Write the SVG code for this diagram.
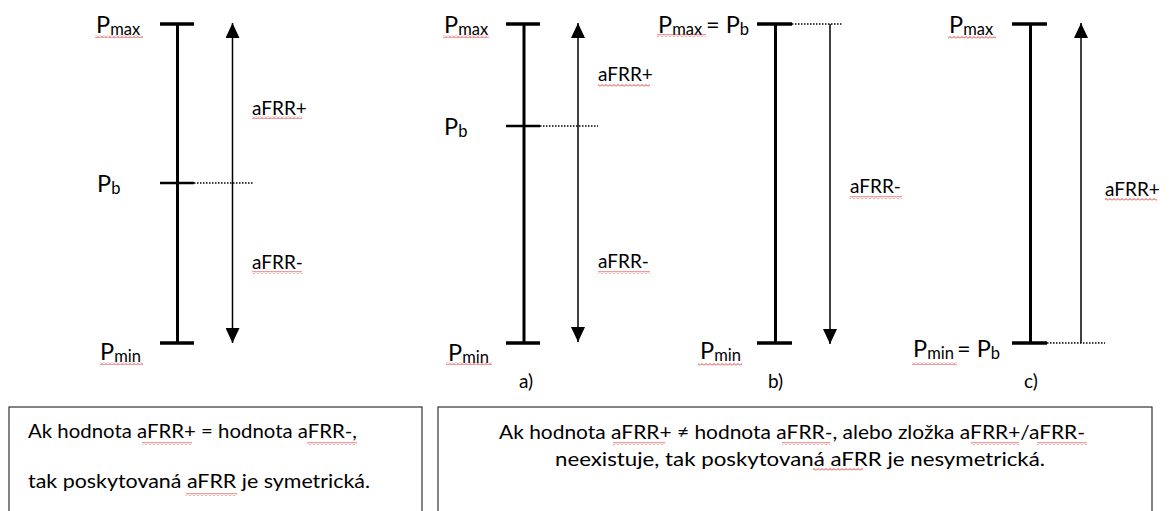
<svg xmlns="http://www.w3.org/2000/svg" width="1169" height="511" viewBox="0 0 1169 511">
<style>
text{font-family:Lato,"Liberation Sans",sans-serif;fill:#000}
.p{font-size:23.5px}
.sub{font-size:16.5px}
.lbl{font-size:19px}
.box{font-size:20px}
.axis{stroke:#000;stroke-width:3;fill:none}
.bar{stroke:#000;stroke-width:3.5;fill:none}
.tick{stroke:#000;stroke-width:2.5;fill:none}
.dot{stroke:#000;stroke-width:1.5;stroke-dasharray:1.5 1.5;fill:none}
.arr{stroke:#000;stroke-width:1.5;fill:none}
.sq{fill:url(#wave)}
.frame{fill:none;stroke:#333;stroke-width:1.2}
</style>
<defs>
<marker id="head" markerUnits="userSpaceOnUse" markerWidth="16" markerHeight="14" refX="15" refY="7" orient="auto-start-reverse">
<path d="M0,0 L15,7 L0,14 z" fill="#000"/>
</marker>
<pattern id="wave" width="4" height="3" patternUnits="userSpaceOnUse">
<path d="M0,2.5 L2,0.5 L4,2.5" stroke="#e02020" stroke-width="0.9" fill="none"/>
</pattern>
</defs>

<g id="diagram-sym">
<line class="axis" x1="177.5" y1="24" x2="177.5" y2="343"/>
<line class="bar" x1="160" y1="24" x2="194" y2="24"/>
<line class="bar" x1="160" y1="343" x2="194" y2="343"/>
<line class="tick" x1="160" y1="183" x2="194" y2="183"/>
<text class="p" x="96" y="33">P<tspan class="sub" dy="2">max</tspan></text>
<text class="p" x="97" y="192">P<tspan class="sub" dy="2">b</tspan></text>
<text class="p" x="100" y="360">P<tspan class="sub" dy="2">min</tspan></text>
<text class="lbl" x="252" y="115">aFRR+</text>
<text class="lbl" x="252" y="269">aFRR-</text>
</g>

<g id="diagram-a">
<line class="axis" x1="524" y1="24" x2="524" y2="343"/>
<line class="bar" x1="506" y1="24" x2="540" y2="24"/>
<line class="bar" x1="506" y1="343" x2="540" y2="343"/>
<line class="tick" x1="506" y1="126" x2="540" y2="126"/>
<text class="p" x="444" y="33">P<tspan class="sub" dy="2">max</tspan></text>
<text class="p" x="444" y="135">P<tspan class="sub" dy="2">b</tspan></text>
<text class="p" x="448" y="361">P<tspan class="sub" dy="2">min</tspan></text>
<text class="lbl" x="598" y="81">aFRR+</text>
<text class="lbl" x="598" y="268">aFRR-</text>
<text class="lbl" x="519" y="388">a)</text>
</g>

<g id="diagram-b">
<line class="axis" x1="775.5" y1="24" x2="775.5" y2="343"/>
<line class="bar" x1="757" y1="24" x2="792" y2="24"/>
<line class="bar" x1="757" y1="343" x2="792" y2="343"/>
<text class="p" x="658" y="33">P<tspan class="sub" dy="2">max</tspan><tspan x="706" dy="-2">= P</tspan><tspan class="sub" dy="2">b</tspan></text>
<text class="p" x="700" y="359">P<tspan class="sub" dy="2">min</tspan></text>
<text class="lbl" x="850" y="193">aFRR-</text>
<text class="lbl" x="768" y="388">b)</text>
</g>

<g id="diagram-c">
<line class="axis" x1="1030.5" y1="24" x2="1030.5" y2="343"/>
<line class="bar" x1="1012" y1="24" x2="1047" y2="24"/>
<line class="bar" x1="1012" y1="343" x2="1047" y2="343"/>
<text class="p" x="949" y="33">P<tspan class="sub" dy="2">max</tspan></text>
<text class="p" x="913" y="357">P<tspan class="sub" dy="2">min</tspan><tspan x="957" dy="-2">= P</tspan><tspan class="sub" dy="2">b</tspan></text>
<text class="lbl" x="1105" y="196">aFRR+</text>
<text class="lbl" x="1024" y="388">c)</text>
</g>

<g id="connectors">
<line class="dot" x1="194" y1="183" x2="253" y2="183"/>
<line class="arr" x1="232.5" y1="23" x2="232.5" y2="343" marker-start="url(#head)" marker-end="url(#head)"/>
<line class="dot" x1="540" y1="126" x2="598" y2="126"/>
<line class="arr" x1="578" y1="23" x2="578" y2="342" marker-start="url(#head)" marker-end="url(#head)"/>
<line class="dot" x1="792" y1="24" x2="842" y2="24"/>
<line class="arr" x1="830" y1="24" x2="830" y2="344" marker-end="url(#head)"/>
<line class="dot" x1="1047" y1="343" x2="1105" y2="343"/>
<line class="arr" x1="1081" y1="343" x2="1081" y2="23" marker-end="url(#head)"/>
</g>

<g id="note-sym">
<rect class="frame" x="9" y="407" width="413" height="115"/>
<text class="box" x="28" y="438" textLength="329" lengthAdjust="spacingAndGlyphs">Ak hodnota aFRR+ = hodnota aFRR-,</text>
<text class="box" x="28" y="488" textLength="342" lengthAdjust="spacingAndGlyphs">tak poskytovaná aFRR je symetrická.</text>
</g>

<g id="note-asym">
<rect class="frame" x="438" y="407" width="714" height="115"/>
<text class="box" x="499" y="439" textLength="586" lengthAdjust="spacingAndGlyphs">Ak hodnota aFRR+ ≠ hodnota aFRR-, alebo zložka aFRR+/aFRR-</text>
<text class="box" x="555" y="466" textLength="490" lengthAdjust="spacingAndGlyphs">neexistuje, tak poskytovaná aFRR je nesymetrická.</text>
</g>

<g id="spellcheck">
<rect class="sq" x="95" y="35" width="48" height="3"/>
<rect class="sq" x="252" y="116" width="50" height="3"/>
<rect class="sq" x="252" y="271" width="50" height="3"/>
<rect class="sq" x="100" y="362" width="43" height="3"/>
<rect class="sq" x="443" y="35" width="46" height="3"/>
<rect class="sq" x="598" y="84" width="52" height="3"/>
<rect class="sq" x="598" y="271" width="52" height="3"/>
<rect class="sq" x="446" y="362" width="46" height="3"/>
<rect class="sq" x="657" y="34" width="49" height="3"/>
<rect class="sq" x="850" y="196" width="52" height="3"/>
<rect class="sq" x="698" y="363" width="44" height="3"/>
<rect class="sq" x="948" y="36" width="48" height="3"/>
<rect class="sq" x="1105" y="198" width="52" height="3"/>
<rect class="sq" x="912" y="362" width="45" height="3"/>
<rect class="sq" x="142" y="442" width="50" height="3"/>
<rect class="sq" x="307" y="442" width="50" height="3"/>
<rect class="sq" x="186" y="493" width="51" height="3"/>
<rect class="sq" x="613" y="442" width="52" height="3"/>
<rect class="sq" x="782" y="442" width="48" height="3"/>
<rect class="sq" x="971" y="442" width="48" height="3"/>
<rect class="sq" x="1037" y="442" width="50" height="3"/>
<rect class="sq" x="813" y="468" width="50" height="3"/>
</g>
</svg>
